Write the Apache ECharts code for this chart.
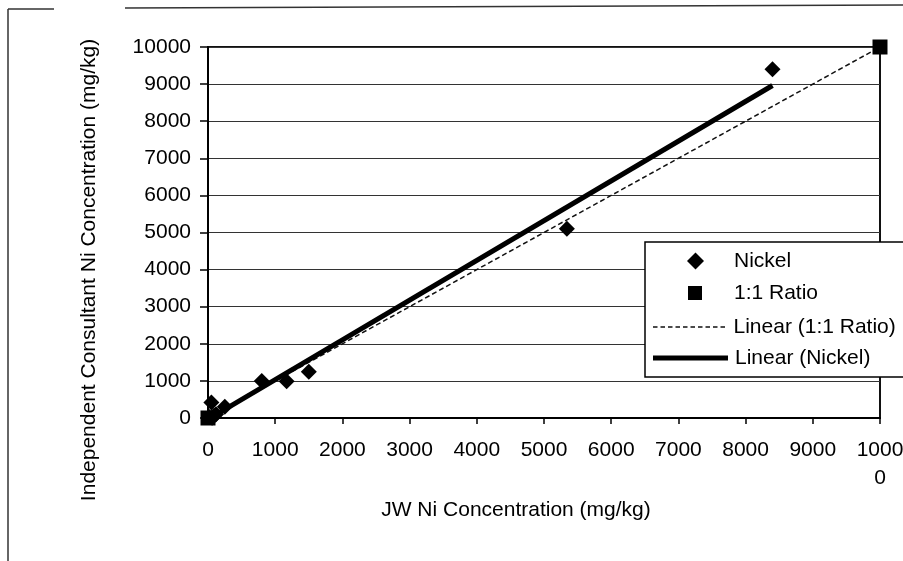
<!DOCTYPE html>
<html>
<head>
<meta charset="utf-8">
<script src="https://cdn.jsdelivr.net/npm/echarts@6/dist/echarts.min.js"></script>
<style>
  html, body { margin: 0; padding: 0; background: #fff; }
  #chart { width: 903px; height: 561px; }
</style>
</head>
<body>
<div id="chart"></div>
<script>
// Nickel: JW lab result vs independent consultant result (mg/kg)
const nickelJW = [20, 60, 90, 120, 50, 250, 800, 1170, 1500, 5340, 8400];
const nickelIC = [30, 10, 60, 100, 420, 300, 1000, 990, 1250, 5100, 9400];

// Reference 1:1 line end points
const ratioJW = [0, 10000];
const ratioIC = [0, 10000];

// Tick labels
const xTickLabels = ['0', '1000', '2000', '3000', '4000', '5000', '6000', '7000', '8000', '9000', '1000\n0'];
const yTickLabels = ['0', '1000', '2000', '3000', '4000', '5000', '6000', '7000', '8000', '9000', '10000'];

const xTitle = 'JW Ni Concentration (mg/kg)';
const yTitle = 'Independent Consultant Ni Concentration (mg/kg)';

const FONT = "'Liberation Sans', Arial, Helvetica, sans-serif";

// Least-squares trend line for the nickel pairs, spanning the data's x range
function linearFit(xs, ys) {
  const n = xs.length;
  const mx = xs.reduce((a, b) => a + b, 0) / n;
  const my = ys.reduce((a, b) => a + b, 0) / n;
  let sxy = 0, sxx = 0;
  for (let i = 0; i < n; i++) {
    sxy += (xs[i] - mx) * (ys[i] - my);
    sxx += (xs[i] - mx) * (xs[i] - mx);
  }
  const slope = sxy / sxx;
  return { slope, intercept: my - slope * mx };
}
const fit = linearFit(nickelJW, nickelIC);
const xMin = Math.min(...nickelJW), xMax = Math.max(...nickelJW);
const nickelTrend = [xMin, xMax].map(x => [x, fit.slope * x + fit.intercept]);

const zip = (a, b) => a.map((v, i) => [v, b[i]]);

// Dashed stroke used as the legend key of the 1:1 line
let dashIcon = 'path://';
for (let x = 0; x < 72; x += 7.5) dashIcon += `M${x},0h4.5v1.5h-4.5z`;

// One legend row per entry so that each key keeps its own shape
function legendRow(name, icon, left, top, w, h, textPad) {
  return {
    left, top, orient: 'horizontal', padding: 0, z: 20,
    itemWidth: w, itemHeight: h, selectedMode: false,
    textStyle: { color: '#000', fontSize: 21, lineHeight: 22, fontFamily: FONT, padding: [0, 0, 0, textPad] },
    data: [{ name, icon }]
  };
}

const chart = echarts.init(document.getElementById('chart'), null, { renderer: 'canvas' });

chart.setOption({
  animation: false,
  backgroundColor: '#fff',
  textStyle: { fontFamily: FONT },
  grid: {
    left: 208, right: 23, top: 47, bottom: 143,
    outerBoundsMode: 'none',
    show: true, borderColor: '#111', borderWidth: 2, backgroundColor: 'transparent'
  },
  xAxis: {
    type: 'value', min: 0, max: 10000, interval: 1000,
    axisLine: { show: true, onZero: false, lineStyle: { color: '#000', width: 2 } },
    axisTick: { show: true, inside: false, length: 6, lineStyle: { color: '#000', width: 1.5 } },
    splitLine: { show: false },
    axisLabel: {
      margin: 18, color: '#000', fontSize: 21, lineHeight: 28, fontFamily: FONT,
      formatter: v => xTickLabels[Math.round(v / 1000)]
    }
  },
  yAxis: {
    type: 'value', min: 0, max: 10000, interval: 1000,
    axisLine: { show: true, onZero: false, lineStyle: { color: '#000', width: 2 } },
    axisTick: { show: true, inside: false, length: 8, lineStyle: { color: '#000', width: 1.5 } },
    splitLine: { show: true, lineStyle: { color: '#333', width: 1 } },
    axisLabel: {
      margin: 17, color: '#000', fontSize: 21, fontFamily: FONT,
      formatter: v => yTickLabels[Math.round(v / 1000)]
    }
  },
  legend: [
    legendRow('Nickel', 'diamond', 687, 250, 17, 17, 25),
    legendRow('1:1 Ratio', 'rect', 688, 282, 14, 14, 27),
    legendRow('Linear (1:1 Ratio)', dashIcon, 653, 316, 75, 1.5, 2),
    legendRow('Linear (Nickel)', 'rect', 653, 347, 75, 5, 2)
  ],
  graphic: [
    // outer frame (left and top edges)
    { type: 'line', shape: { x1: 8, y1: 9, x2: 8, y2: 561 }, style: { stroke: '#333', lineWidth: 1.5 } },
    { type: 'line', shape: { x1: 8, y1: 9, x2: 54, y2: 9 }, style: { stroke: '#333', lineWidth: 1.5 } },
    { type: 'line', shape: { x1: 125, y1: 8, x2: 903, y2: 5 }, style: { stroke: '#333', lineWidth: 1.5 } },
    // legend box
    { type: 'rect', z: 10, shape: { x: 645, y: 242, width: 270, height: 135 },
      style: { fill: '#fff', stroke: '#000', lineWidth: 1.5 } },
    // axis titles
    {
      type: 'text', x: 516, y: 510,
      style: { text: xTitle, font: `21px ${FONT}`, fill: '#000', align: 'center', verticalAlign: 'middle' }
    },
    {
      type: 'text', x: 89, y: 270, rotation: Math.PI / 2,
      style: { text: yTitle, font: `21px ${FONT}`, fill: '#000', align: 'center', verticalAlign: 'middle' }
    }
  ],
  series: [
    {
      name: 'Nickel', type: 'scatter', symbol: 'diamond', symbolSize: 16,
      itemStyle: { color: '#000', opacity: 1 }, clip: false, z: 5,
      data: zip(nickelJW, nickelIC)
    },
    {
      name: '1:1 Ratio', type: 'scatter', symbol: 'rect', symbolSize: 15,
      itemStyle: { color: '#000', opacity: 1 }, clip: false, z: 5,
      data: zip(ratioJW, ratioIC)
    },
    {
      name: 'Linear (1:1 Ratio)', type: 'line', symbol: 'none', showSymbol: false,
      lineStyle: { color: '#111', width: 1.5, type: [5, 3] }, itemStyle: { color: '#111' },
      clip: false, z: 3,
      data: zip(ratioJW, ratioIC)
    },
    {
      name: 'Linear (Nickel)', type: 'line', symbol: 'none', showSymbol: false,
      lineStyle: { color: '#000', width: 5 }, itemStyle: { color: '#000' },
      clip: false, z: 4,
      data: nickelTrend
    }
  ]
});
</script>
</body>
</html>
